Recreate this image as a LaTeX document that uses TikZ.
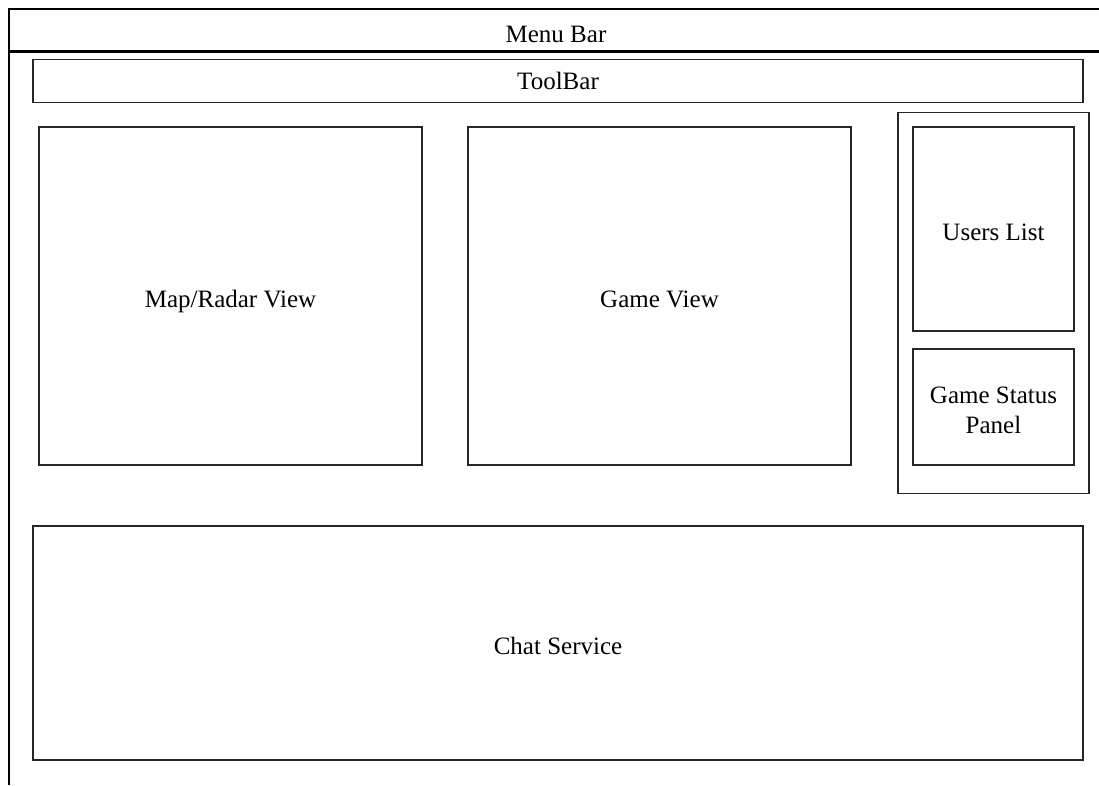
\documentclass[tikz,border=0pt]{standalone}
\usepackage{fontspec}
\setmainfont{Liberation Serif}
\begin{document}
\begin{tikzpicture}[x=1pt,y=-1pt,
  box/.style={draw=black!85, line width=1.6pt, inner sep=0pt, align=center,
    text height=25pt, text depth=2.5pt,
    font=\fontsize{25}{30}\selectfont},
  lbl/.style={inner sep=0pt, text height=25pt, text depth=2.5pt,
    font=\fontsize{25}{30}\selectfont}]
\useasboundingbox (0,0) rectangle (1099,785);
% outer frame
\draw[line width=1.6pt] (9,785) -- (9,9) -- (1099,9);
\draw[line width=3pt] (9,51) -- (1099,51);
\node[lbl] (menubar) at (556,31) {Menu Bar};
% toolbar
\node[box, text height=19pt, text depth=3pt, minimum width=1050pt, minimum height=43pt] (toolbar) at (558,81) {ToolBar};
% views
\node[box, minimum width=383pt, minimum height=338pt] (map) at (230.5,296) {Map/Radar View};
\node[box, minimum width=383pt, minimum height=338pt] (game) at (659.5,296) {Game View};
% right panel
\node[box, minimum width=191pt, minimum height=381pt] (panel) at (993.5,303) {};
\node[box, minimum width=161pt, minimum height=204pt] (users) at (993.5,229) {Users List};
\node[box, text height=55pt, text depth=2.5pt, minimum width=161pt, minimum height=116pt] (status) at (993.5,407) {Game Status\\Panel};
% chat
\node[box, minimum width=1050pt, minimum height=234pt] (chat) at (558,643) {Chat Service};
\end{tikzpicture}
\end{document}
